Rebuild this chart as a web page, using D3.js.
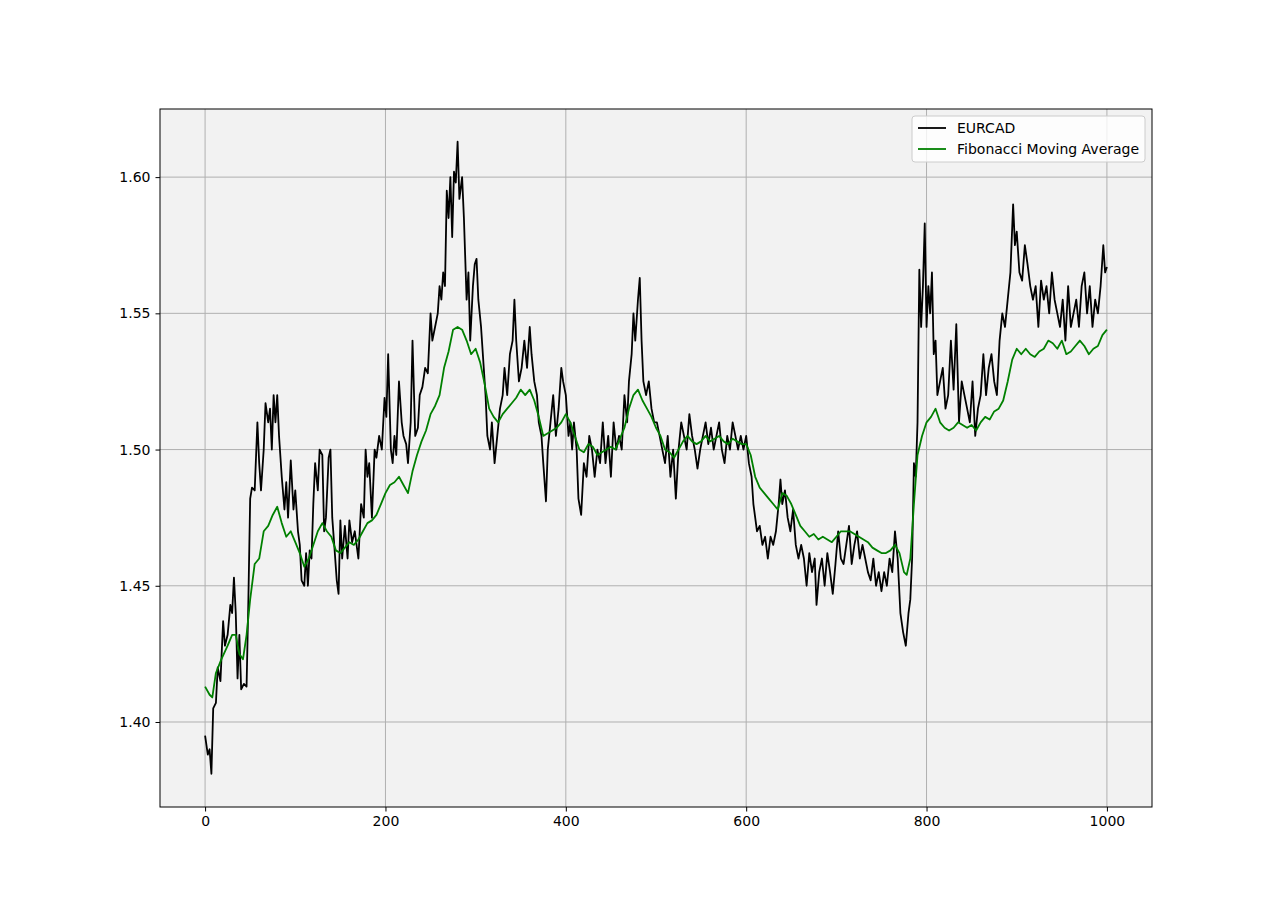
<!DOCTYPE html>
<html><head><meta charset="utf-8">
<script src="https://cdn.jsdelivr.net/npm/d3@7"></script>
<style>body{margin:0;background:#fff}svg{font-family:"DejaVu Sans",sans-serif}</style>
</head><body><svg id="c" width="1280" height="907"></svg>
<script>
const xTicks=[0,200,400,600,800,1000];
const yTicks=[1.40,1.45,1.50,1.55,1.60];
const seriesNames=["EURCAD","Fibonacci Moving Average"];
const eurIdx=[0,3,5,7,9,12,14,17,20,22,25,28,30,32,34,36,38,40,43,46,48,50,52,55,58,60,62,65,67,70,72,74,76,78,80,82,85,88,90,92,95,98,100,103,105,107,110,112,114,116,118,120,122,125,127,130,132,134,137,139,141,143,146,148,150,152,155,158,160,163,166,170,173,176,178,180,182,185,188,190,193,196,199,201,203,206,208,210,212,215,218,220,223,225,228,230,233,236,238,241,244,247,250,252,255,258,260,262,264,266,268,270,272,274,276,278,280,282,285,287,290,292,294,297,299,301,303,306,309,311,313,316,318,321,324,327,330,332,335,338,341,343,345,348,351,354,357,360,362,365,368,370,373,375,378,380,383,386,389,392,395,397,400,403,405,407,409,412,414,417,420,423,426,429,432,435,438,441,444,447,450,453,456,459,462,465,468,470,473,475,477,480,482,484,486,489,492,495,498,501,504,507,510,513,516,519,522,525,528,531,534,537,540,543,546,549,552,555,558,561,564,567,570,573,576,579,582,585,588,591,594,597,600,603,606,608,610,612,615,618,621,624,627,630,633,636,638,640,643,646,649,652,655,658,661,664,667,670,673,676,678,681,684,687,690,693,696,699,702,705,708,711,714,717,720,723,726,729,732,735,738,741,744,747,750,753,756,759,762,765,768,771,774,777,780,782,784,786,788,790,792,794,796,798,800,802,804,806,808,810,812,815,818,821,824,827,830,833,836,839,842,845,848,851,854,857,860,863,866,869,872,875,878,881,884,887,890,893,896,898,900,903,906,909,912,915,918,921,924,927,930,933,936,939,942,945,948,951,954,957,960,963,966,969,972,975,978,981,984,987,990,993,996,998,1000];
const eurVal=[1.395,1.388,1.390,1.381,1.405,1.407,1.420,1.415,1.437,1.428,1.432,1.443,1.440,1.453,1.440,1.416,1.432,1.412,1.414,1.413,1.445,1.482,1.486,1.485,1.510,1.495,1.485,1.500,1.517,1.510,1.515,1.500,1.520,1.510,1.520,1.505,1.490,1.478,1.488,1.475,1.496,1.478,1.485,1.470,1.465,1.452,1.450,1.462,1.450,1.463,1.460,1.480,1.495,1.485,1.500,1.498,1.470,1.475,1.497,1.500,1.475,1.466,1.452,1.447,1.474,1.460,1.472,1.460,1.474,1.466,1.470,1.460,1.480,1.475,1.500,1.490,1.495,1.475,1.500,1.497,1.505,1.500,1.519,1.512,1.535,1.500,1.495,1.505,1.498,1.525,1.510,1.505,1.502,1.495,1.510,1.540,1.505,1.508,1.520,1.523,1.530,1.528,1.550,1.540,1.545,1.550,1.560,1.555,1.565,1.560,1.595,1.585,1.600,1.578,1.602,1.598,1.613,1.592,1.600,1.585,1.555,1.565,1.540,1.560,1.568,1.570,1.555,1.545,1.530,1.520,1.505,1.500,1.510,1.495,1.505,1.515,1.520,1.530,1.520,1.535,1.540,1.555,1.540,1.525,1.530,1.540,1.530,1.545,1.535,1.525,1.520,1.510,1.505,1.495,1.481,1.500,1.510,1.520,1.505,1.515,1.530,1.525,1.520,1.505,1.510,1.500,1.510,1.500,1.482,1.476,1.495,1.490,1.505,1.500,1.490,1.500,1.495,1.510,1.495,1.505,1.490,1.510,1.500,1.505,1.500,1.520,1.510,1.525,1.535,1.550,1.540,1.555,1.563,1.540,1.525,1.520,1.525,1.515,1.510,1.510,1.505,1.500,1.495,1.505,1.490,1.500,1.482,1.500,1.510,1.505,1.500,1.513,1.505,1.500,1.493,1.500,1.505,1.510,1.502,1.508,1.500,1.505,1.510,1.500,1.495,1.505,1.500,1.510,1.505,1.500,1.505,1.500,1.505,1.495,1.490,1.480,1.475,1.470,1.472,1.465,1.468,1.460,1.468,1.465,1.470,1.480,1.489,1.480,1.485,1.475,1.470,1.478,1.465,1.460,1.465,1.460,1.450,1.462,1.455,1.460,1.443,1.455,1.460,1.450,1.462,1.455,1.447,1.458,1.470,1.460,1.458,1.465,1.472,1.458,1.465,1.470,1.460,1.465,1.460,1.455,1.452,1.460,1.450,1.455,1.448,1.455,1.450,1.460,1.455,1.470,1.460,1.440,1.433,1.428,1.440,1.445,1.460,1.495,1.490,1.510,1.566,1.545,1.560,1.583,1.545,1.560,1.550,1.565,1.535,1.540,1.520,1.525,1.530,1.515,1.520,1.540,1.522,1.546,1.510,1.525,1.520,1.515,1.510,1.525,1.505,1.515,1.520,1.535,1.520,1.530,1.535,1.525,1.520,1.540,1.550,1.545,1.555,1.565,1.590,1.575,1.580,1.565,1.562,1.575,1.568,1.560,1.555,1.560,1.545,1.562,1.555,1.560,1.550,1.565,1.555,1.550,1.545,1.555,1.540,1.560,1.545,1.550,1.555,1.545,1.560,1.565,1.550,1.560,1.545,1.555,1.550,1.560,1.575,1.565,1.567];
const fmaIdx=[0,5,8,12,18,25,30,34,38,42,46,50,55,60,65,70,75,80,85,90,95,100,105,110,115,120,125,130,135,140,145,150,155,160,165,170,175,180,185,190,195,200,205,210,215,220,225,230,235,240,245,250,255,260,265,270,275,280,285,290,295,300,305,310,315,320,325,330,335,340,345,350,355,360,365,370,375,380,385,390,395,400,405,410,415,420,425,430,435,440,445,450,455,460,465,470,475,480,485,490,495,500,505,510,515,520,525,530,535,540,545,550,555,560,565,570,575,580,585,590,595,600,605,610,615,620,625,630,635,640,645,650,655,660,665,670,675,680,685,690,695,700,705,710,715,720,725,730,735,740,745,750,755,760,765,770,775,778,782,786,790,795,800,805,810,815,820,825,830,835,840,845,850,855,860,865,870,875,880,885,890,895,900,905,910,915,920,925,930,935,940,945,950,955,960,965,970,975,980,985,990,995,1000];
const fmaVal=[1.413,1.410,1.409,1.418,1.423,1.428,1.432,1.432,1.425,1.423,1.432,1.445,1.458,1.460,1.470,1.472,1.476,1.479,1.473,1.468,1.470,1.466,1.462,1.457,1.460,1.465,1.470,1.473,1.470,1.468,1.463,1.462,1.464,1.466,1.465,1.467,1.470,1.473,1.474,1.476,1.480,1.484,1.487,1.488,1.490,1.487,1.484,1.492,1.498,1.503,1.507,1.513,1.516,1.520,1.530,1.536,1.544,1.545,1.544,1.540,1.535,1.537,1.532,1.524,1.515,1.512,1.510,1.513,1.515,1.517,1.519,1.522,1.520,1.522,1.518,1.512,1.505,1.506,1.507,1.508,1.510,1.513,1.510,1.505,1.500,1.499,1.502,1.501,1.498,1.499,1.500,1.501,1.500,1.504,1.508,1.515,1.520,1.522,1.518,1.515,1.512,1.508,1.505,1.500,1.499,1.497,1.500,1.503,1.505,1.503,1.502,1.503,1.505,1.503,1.504,1.505,1.503,1.502,1.504,1.503,1.502,1.502,1.498,1.490,1.486,1.484,1.482,1.480,1.478,1.484,1.483,1.480,1.476,1.472,1.470,1.468,1.469,1.467,1.468,1.467,1.466,1.468,1.470,1.470,1.470,1.469,1.468,1.467,1.466,1.464,1.463,1.462,1.462,1.463,1.465,1.462,1.455,1.454,1.460,1.480,1.498,1.505,1.510,1.512,1.515,1.510,1.508,1.507,1.508,1.510,1.509,1.508,1.509,1.507,1.510,1.512,1.511,1.514,1.515,1.518,1.525,1.533,1.537,1.535,1.537,1.535,1.534,1.536,1.537,1.540,1.539,1.537,1.540,1.535,1.536,1.538,1.540,1.538,1.535,1.537,1.538,1.542,1.544];

const svg=d3.select("#c");
const L=160,R=1152,T=109,B=807;
const x=d3.scaleLinear().domain([-50,1050]).range([L,R]);
const y=d3.scaleLinear().domain([1.3688,1.625]).range([B,T]);
svg.append("rect").attr("x",L).attr("y",T).attr("width",R-L).attr("height",B-T).attr("fill","#f2f2f2");
const g=svg.append("g");
xTicks.forEach(t=>g.append("line").attr("x1",x(t)).attr("x2",x(t)).attr("y1",T).attr("y2",B).attr("stroke","#b0b0b0").attr("stroke-width",1));
yTicks.forEach(t=>g.append("line").attr("x1",L).attr("x2",R).attr("y1",y(t)).attr("y2",y(t)).attr("stroke","#b0b0b0").attr("stroke-width",1));
const line=d3.line().x(d=>x(d[0])).y(d=>y(d[1]));
svg.append("path").datum(eurIdx.map((i,k)=>[i,eurVal[k]])).attr("d",line).attr("fill","none").attr("stroke","#000").attr("stroke-width",1.8).attr("stroke-linejoin","round");
svg.append("path").datum(fmaIdx.map((i,k)=>[i,fmaVal[k]])).attr("d",line).attr("fill","none").attr("stroke","#008000").attr("stroke-width",1.8).attr("stroke-linejoin","round");
const xa=svg.append("g").attr("transform",`translate(0,${B})`).call(d3.axisBottom(x).tickValues(xTicks).tickSize(4.5).tickPadding(5).tickFormat(d3.format("d")));
const ya=svg.append("g").attr("transform",`translate(${L},0)`).call(d3.axisLeft(y).tickValues(yTicks).tickSize(4.5).tickPadding(5).tickFormat(d3.format(".2f")));
[xa,ya].forEach(a=>{a.select(".domain").remove();a.selectAll("text").attr("font-size",14).attr("fill","#000").attr("font-family","DejaVu Sans");});
svg.append("rect").attr("x",L).attr("y",T).attr("width",R-L).attr("height",B-T).attr("fill","none").attr("stroke","#000").attr("stroke-width",1);
const lg=svg.append("g");
lg.append("rect").attr("x",912).attr("y",116).attr("width",233).attr("height",46).attr("rx",3).attr("fill","#fff").attr("fill-opacity",0.8).attr("stroke","#ccc");
const cols=["#000","#008000"];
seriesNames.forEach((n,i)=>{const yy=128+i*21;
lg.append("line").attr("x1",918).attr("x2",946).attr("y1",yy).attr("y2",yy).attr("stroke",cols[i]).attr("stroke-width",1.8);
lg.append("text").attr("x",957).attr("y",yy+5).attr("font-size",14).text(n);});
</script></body></html>
